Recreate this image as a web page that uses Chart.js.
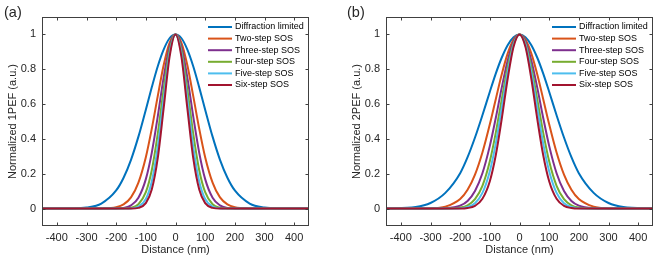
<!DOCTYPE html>
<html>
<head>
<meta charset="utf-8">
<script src="https://cdn.jsdelivr.net/npm/chart.js@4.4.0/dist/chart.umd.min.js"></script>
<style>
  body { margin: 0; background: #fff; }
  #wrap { position: relative; width: 664px; height: 261px; }
  canvas { position: absolute; top: 0; }
  #chartA { left: 0; }
  #chartB { left: 344px; }
  .panel { position: absolute; top: 5px; font: 14.5px "Liberation Sans", Arial, sans-serif; line-height: 14px; color: #262626; }
</style>
</head>
<body>
<div id="wrap">
  <canvas id="chartA" width="320" height="261"></canvas>
  <canvas id="chartB" width="320" height="261"></canvas>
  <div class="panel" style="left:4px">(a)</div>
  <div class="panel" style="left:347px">(b)</div>
</div>
<script>
// distance samples (nm), shared by every curve
const distance = [-450, -350, -300, -250, -200, -175, -150, -125, -100, -80, -60, -40, -20, 0,
  20, 40, 60, 80, 100, 125, 150, 175, 200, 250, 300, 350, 450];

const seriesNames = ["Diffraction limited", "Two-step SOS", "Three-step SOS", "Four-step SOS", "Five-step SOS", "Six-step SOS"];
const seriesColors = ["#0072BD", "#D95319", "#7E2F8E", "#77AC30", "#4DBEEE", "#A2142F"];

const xTicks = [-400, -300, -200, -100, 0, 100, 200, 300, 400];
const yTicks = [0, 0.2, 0.4, 0.6, 0.8, 1];

// (a) 1PEF
const diff1 = [0, 0.001, 0.006, 0.029, 0.104, 0.177, 0.280, 0.413, 0.568, 0.696, 0.816, 0.913, 0.978, 1,
  0.978, 0.913, 0.816, 0.696, 0.568, 0.413, 0.280, 0.177, 0.104, 0.029, 0.006, 0.001, 0];
const two1 = [0, 0, 0, 0.001, 0.008, 0.024, 0.064, 0.149, 0.295, 0.458, 0.644, 0.823, 0.952, 1,
  0.952, 0.823, 0.644, 0.458, 0.295, 0.149, 0.064, 0.024, 0.008, 0.001, 0, 0, 0];
const three1 = [0, 0, 0, 0, 0.001, 0.004, 0.018, 0.062, 0.169, 0.320, 0.527, 0.752, 0.931, 1,
  0.931, 0.752, 0.527, 0.320, 0.169, 0.062, 0.018, 0.004, 0.001, 0, 0, 0, 0];
const four1 = [0, 0, 0, 0, 0, 0.001, 0.005, 0.025, 0.094, 0.220, 0.427, 0.685, 0.910, 1,
  0.910, 0.685, 0.427, 0.220, 0.094, 0.025, 0.005, 0.001, 0, 0, 0, 0, 0];
const five1 = [0, 0, 0, 0, 0, 0, 0.001, 0.011, 0.055, 0.156, 0.352, 0.628, 0.890, 1,
  0.890, 0.628, 0.352, 0.156, 0.055, 0.011, 0.001, 0, 0, 0, 0, 0, 0];
const six1 = [0, 0, 0, 0, 0, 0, 0, 0.004, 0.031, 0.109, 0.288, 0.575, 0.871, 1,
  0.871, 0.575, 0.288, 0.109, 0.031, 0.004, 0, 0, 0, 0, 0, 0, 0];

// (b) 2PEF
const diff2 = [0, 0.009, 0.032, 0.090, 0.203, 0.295, 0.408, 0.536, 0.671, 0.775, 0.866, 0.938, 0.984, 1,
  0.984, 0.938, 0.866, 0.775, 0.671, 0.536, 0.408, 0.295, 0.203, 0.090, 0.032, 0.009, 0];
const two2 = [0, 0, 0.001, 0.011, 0.055, 0.108, 0.195, 0.322, 0.484, 0.628, 0.770, 0.890, 0.971, 1,
  0.971, 0.890, 0.770, 0.628, 0.484, 0.322, 0.195, 0.108, 0.055, 0.011, 0.001, 0, 0];
const three2 = [0, 0, 0, 0.002, 0.017, 0.044, 0.101, 0.203, 0.360, 0.520, 0.693, 0.849, 0.960, 1,
  0.960, 0.849, 0.693, 0.520, 0.360, 0.203, 0.101, 0.044, 0.017, 0.002, 0, 0, 0];
const four2 = [0, 0, 0, 0, 0.006, 0.019, 0.054, 0.131, 0.272, 0.435, 0.626, 0.812, 0.949, 1,
  0.949, 0.812, 0.626, 0.435, 0.272, 0.131, 0.054, 0.019, 0.006, 0, 0, 0, 0];
const five2 = [0, 0, 0, 0, 0.002, 0.009, 0.031, 0.090, 0.215, 0.373, 0.575, 0.782, 0.940, 1,
  0.940, 0.782, 0.575, 0.373, 0.215, 0.090, 0.031, 0.009, 0.002, 0, 0, 0, 0];
const six2 = [0, 0, 0, 0, 0, 0.003, 0.016, 0.056, 0.157, 0.306, 0.514, 0.744, 0.929, 1,
  0.929, 0.744, 0.514, 0.306, 0.157, 0.056, 0.016, 0.003, 0, 0, 0, 0, 0];

const FONT = '"Liberation Sans", Arial, sans-serif';
Chart.defaults.font.family = FONT;
Chart.defaults.color = "#262626";

// box round the plot with inward ticks on all four sides
const frame = {
  id: "frame",
  afterDatasetsDraw(chart) {
    const { ctx, chartArea: a, scales } = chart;
    const l = Math.round(a.left) + 0.5, r = Math.round(a.right) - 0.5;
    const t = Math.round(a.top) + 0.5, b = Math.round(a.bottom) - 0.5;
    ctx.save();
    ctx.strokeStyle = "#404040";
    ctx.lineWidth = 1;
    ctx.strokeRect(l, t, r - l, b - t);
    ctx.beginPath();
    xTicks.forEach(v => {
      const px = Math.round(scales.x.getPixelForValue(v)) + 0.5;
      ctx.moveTo(px, b); ctx.lineTo(px, b - 3);
      ctx.moveTo(px, t); ctx.lineTo(px, t + 3);
    });
    yTicks.forEach(v => {
      const py = Math.round(scales.y.getPixelForValue(v)) + 0.5;
      ctx.moveTo(l, py); ctx.lineTo(l + 3, py);
      ctx.moveTo(r, py); ctx.lineTo(r - 3, py);
    });
    ctx.stroke();
    ctx.restore();
  }
};

// legend in the top right corner of the plot
const legendBox = {
  id: "legendBox",
  afterDatasetsDraw(chart) {
    const { ctx, chartArea: a } = chart;
    ctx.save();
    ctx.font = "9px " + FONT;
    ctx.fillStyle = "#000";
    ctx.textBaseline = "middle";
    chart.data.datasets.forEach((ds, i) => {
      const y = a.top + 10 + i * 11.6;
      ctx.strokeStyle = ds.borderColor;
      ctx.lineWidth = 2;
      ctx.beginPath();
      ctx.moveTo(a.left + 166, y);
      ctx.lineTo(a.left + 190, y);
      ctx.stroke();
      ctx.fillText(ds.label, a.left + 193, y);
    });
    ctx.restore();
  }
};

function makeChart(id, yTitle, series) {
  new Chart(document.getElementById(id), {
    type: "line",
    data: {
      datasets: series.map((vals, i) => ({
        label: seriesNames[i],
        data: distance.map((d, j) => ({ x: d, y: vals[j] })),
        borderColor: seriesColors[i],
        borderWidth: 2,
        pointRadius: 0,
        cubicInterpolationMode: "monotone",
        order: series.length - i
      }))
    },
    options: {
      responsive: false,
      animation: false,
      devicePixelRatio: 1,
      layout: { padding: { top: 17, right: 11, left: 0, bottom: 0 } },
      plugins: { legend: { display: false }, tooltip: { enabled: false } },
      scales: {
        x: {
          type: "linear",
          min: -450,
          max: 450,
          afterBuildTicks: s => { s.ticks = xTicks.map(v => ({ value: v })); },
          afterFit: s => { s.height = 35; },
          grid: { display: false, drawTicks: false },
          border: { display: false },
          ticks: { autoSkip: false, maxRotation: 0, padding: 5, font: { size: 11 }, callback: v => String(v) },
          title: { display: true, text: "Distance (nm)", font: { size: 11 }, padding: { top: 0, bottom: 4 } }
        },
        y: {
          min: -0.1,
          max: 1.1,
          afterBuildTicks: s => { s.ticks = yTicks.map(v => ({ value: v })); },
          afterFit: s => { s.width = 42; },
          grid: { display: false, drawTicks: false },
          border: { display: false },
          ticks: { padding: 6, font: { size: 11 }, callback: v => String(v) },
          title: { display: true, text: yTitle, font: { size: 11 }, padding: { top: 6, bottom: 0 } }
        }
      }
    },
    plugins: [frame, legendBox]
  });
}

makeChart("chartA", "Normalized 1PEF (a.u.)", [diff1, two1, three1, four1, five1, six1]);
makeChart("chartB", "Normalized 2PEF (a.u.)", [diff2, two2, three2, four2, five2, six2]);
</script>
</body>
</html>
